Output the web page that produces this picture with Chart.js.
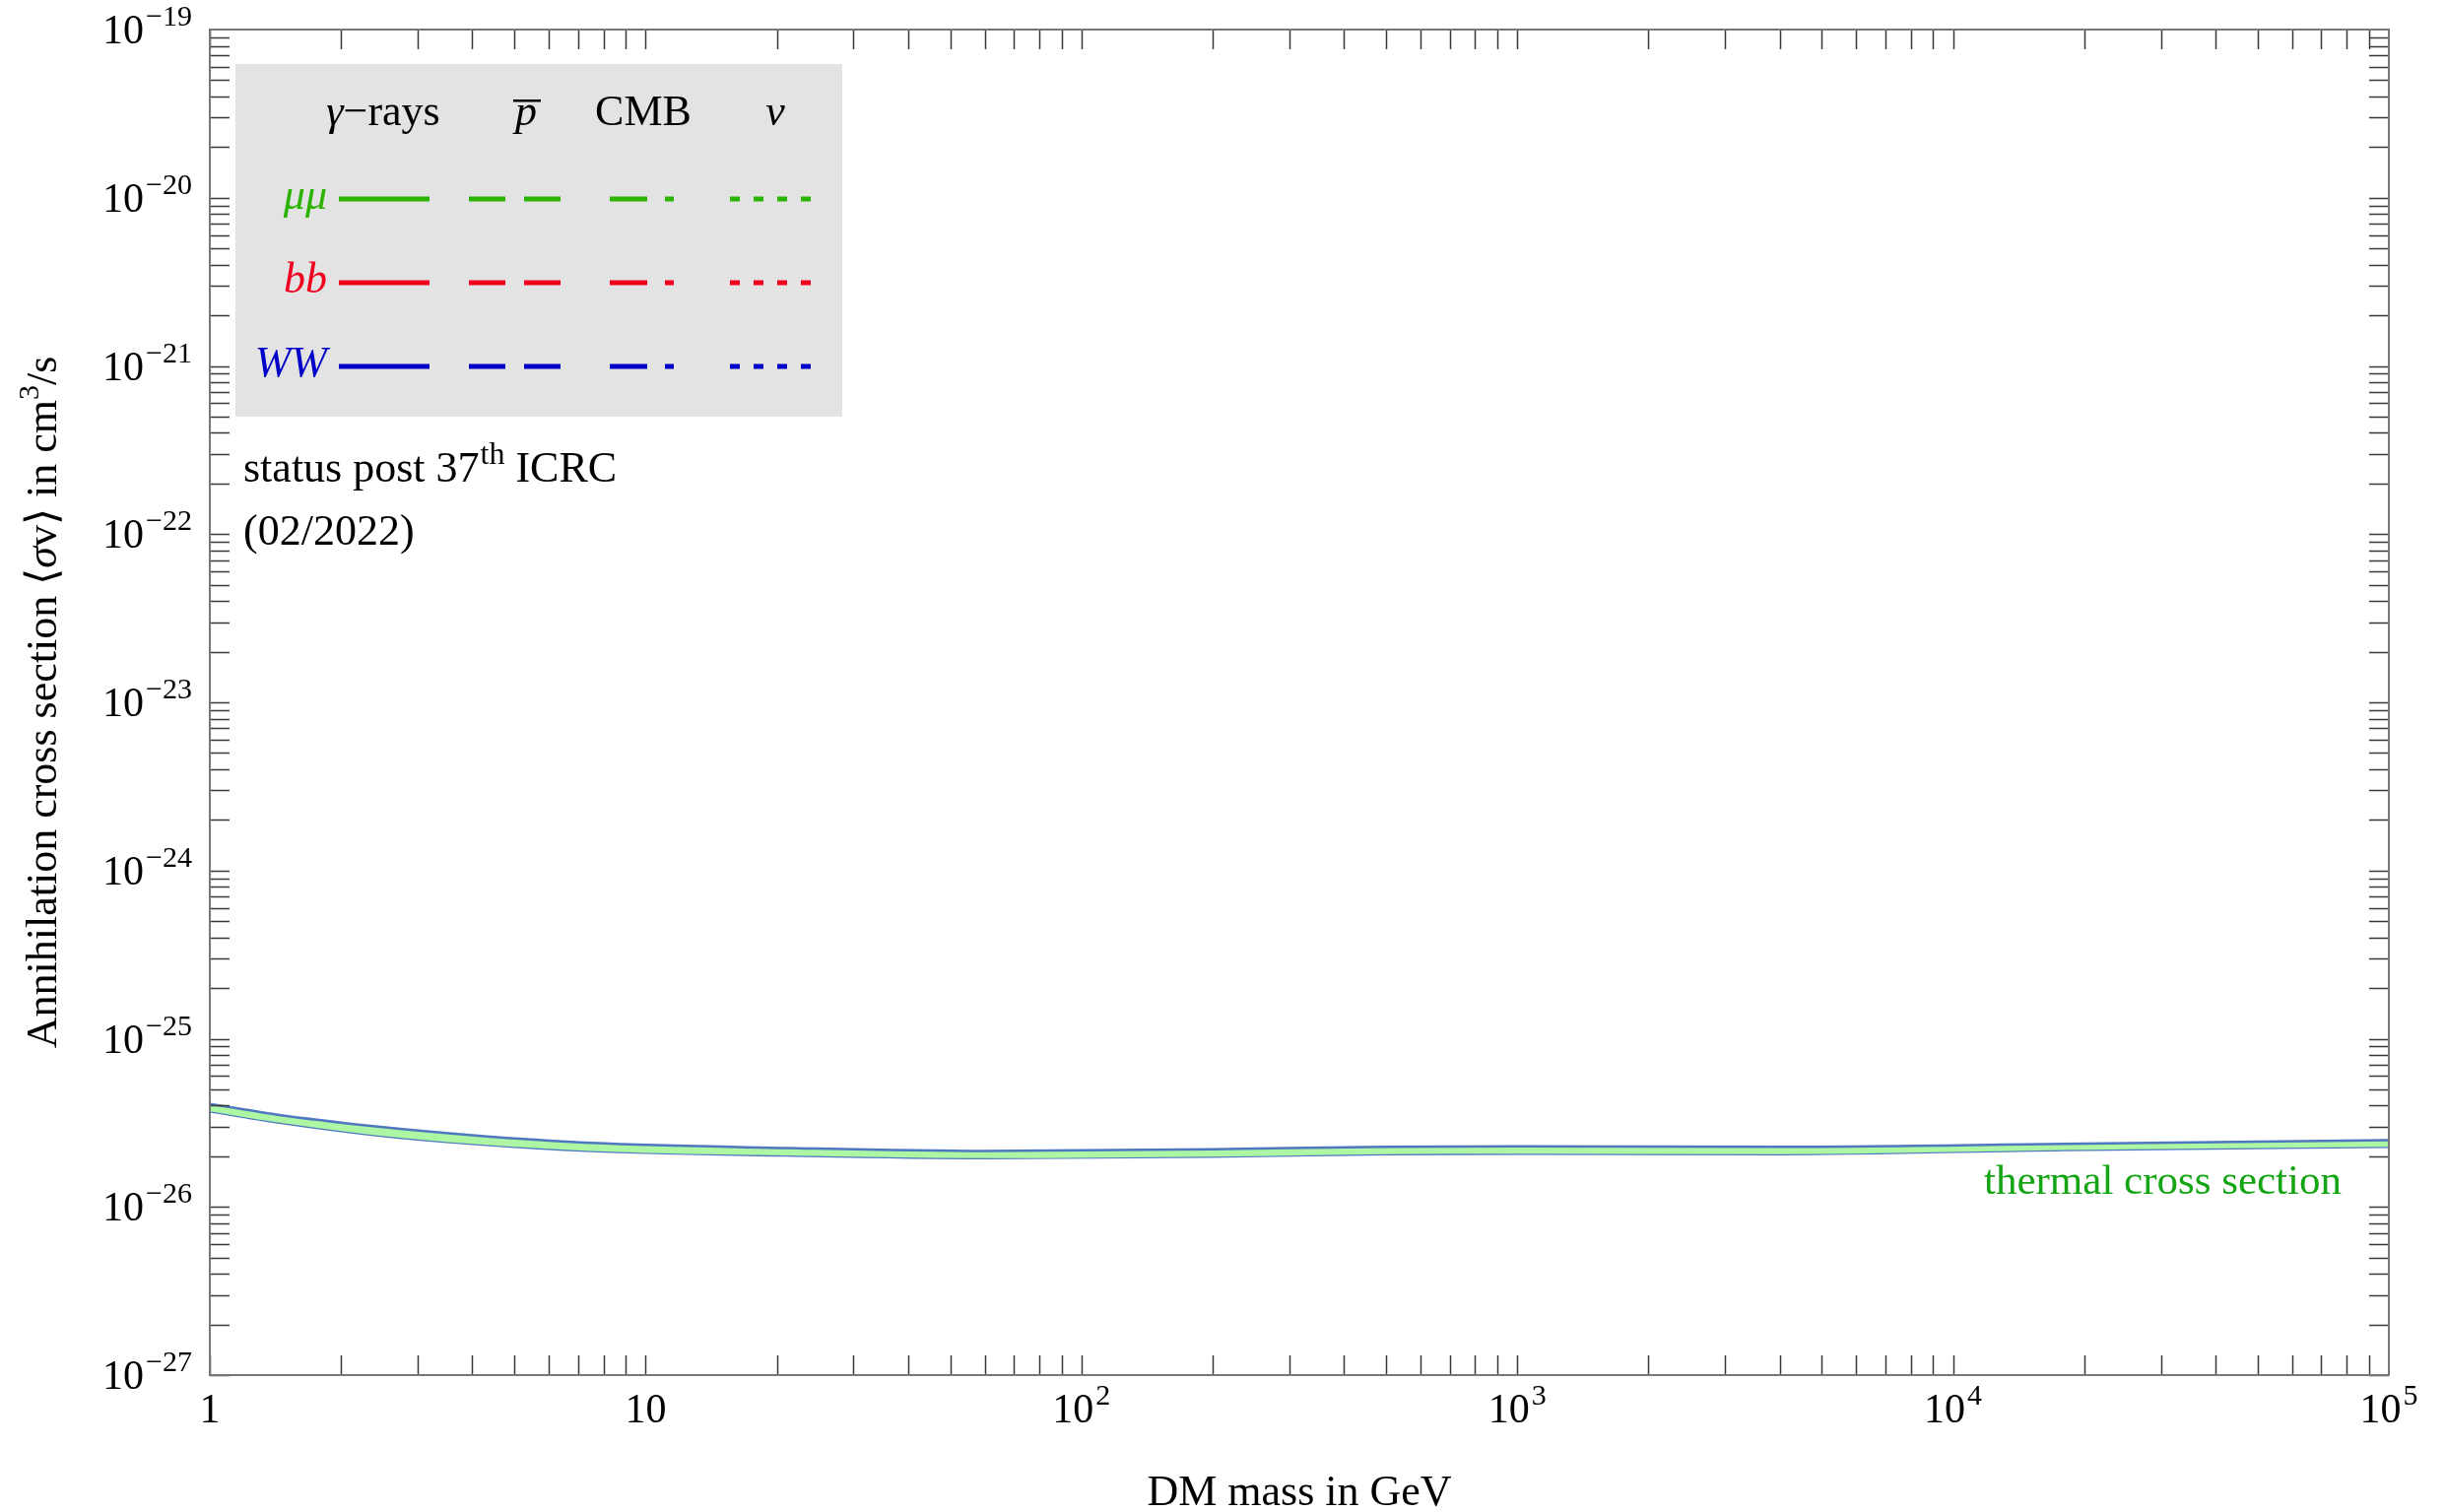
<!DOCTYPE html>
<html>
<head>
<meta charset="utf-8">
<script src="https://cdn.jsdelivr.net/npm/chart.js@4"></script>
<style>
  html, body { margin: 0; padding: 0; background: #fff; }
  canvas { display: block; }
</style>
</head>
<body>
<canvas id="relicChart" width="2482" height="1535"></canvas>
<script>
// thermal relic cross section band (upper / lower edge)
const massGeV    = [1, 1.42, 2.4, 4, 7.5, 21, 60, 200, 500, 1000, 4000, 18000, 100000];
const sigmaUpper = [4.1e-26, 3.54e-26, 3.01e-26, 2.67e-26, 2.4e-26, 2.24e-26, 2.15e-26, 2.2e-26, 2.28e-26, 2.29e-26, 2.28e-26, 2.37e-26, 2.49e-26];
const sigmaLower = [3.7e-26, 3.19e-26, 2.67e-26, 2.37e-26, 2.15e-26, 2.02e-26, 1.95e-26, 1.99e-26, 2.06e-26, 2.07e-26, 2.06e-26, 2.18e-26, 2.28e-26];

// decade tick labels
const xTickExponents = [0, 1, 2, 3, 4, 5];
const yTickExponents = [-27, -26, -25, -24, -23, -22, -21, -20, -19];

// legend table
const channels = ['μμ', 'bb', 'WW'];
const probes = ['γ−rays', 'p̄', 'CMB', 'ν'];

const SERIF = "'Liberation Serif', 'Times New Roman', serif";
const channelColors = ['#2bb300', '#f0001e', '#0000c8'];
const probeDashes = [[], [37, 19], [38, 18, 9, 200], [10, 14]];
const bandFill = 'rgb(172,246,164)';
const bandEdge = 'rgb(80,120,192)';

function toPoints(xs, ys) {
    return xs.map(function (x, i) { return { x: x, y: ys[i] }; });
}

// draw a run of text pieces [{t, font, dy}] starting at x
function richWidth(ctx, parts) {
    let w = 0;
    parts.forEach(function (p) { ctx.font = p.font; w += ctx.measureText(p.t).width + (p.gap || 0); });
    return w;
}
function drawRich(ctx, parts, x, y, align) {
    const w = richWidth(ctx, parts);
    let cx = x;
    if (align === 'center') cx = x - w / 2;
    if (align === 'right') cx = x - w;
    ctx.textAlign = 'left';
    ctx.textBaseline = 'alphabetic';
    parts.forEach(function (p) {
        ctx.font = p.font;
        cx += (p.gap || 0);
        ctx.fillText(p.t, cx, y + (p.dy || 0));
        cx += ctx.measureText(p.t).width;
    });
}

function powerParts(e) {
    if (e === 0) return [{ t: '1', font: '42px ' + SERIF }];
    if (e === 1) return [{ t: '10', font: '42px ' + SERIF }];
    const s = (e < 0 ? '\u2212' : '') + Math.abs(e);
    return [{ t: '10', font: '42px ' + SERIF }, { t: s, font: '30px ' + SERIF, dy: -18, gap: 2 }];
}

const framePlugin = {
    id: 'frame',
    afterDraw: function (chart) {
        const ctx = chart.ctx;
        const a = chart.chartArea;
        const xs = chart.scales.x;
        const ys = chart.scales.y;
        const tick = 20;
        ctx.save();

        // ticks inside on all four sides
        ctx.strokeStyle = '#3a3a3a';
        ctx.lineWidth = 1.5;
        ctx.beginPath();
        for (let e = 0; e < 5; e++) {
            for (let s = 1; s <= 9; s++) {
                const px = Math.round(xs.getPixelForValue(s * Math.pow(10, e))) + 0.5;
                ctx.moveTo(px, a.bottom); ctx.lineTo(px, a.bottom - tick);
                ctx.moveTo(px, a.top); ctx.lineTo(px, a.top + tick);
            }
        }
        for (let e = -27; e < -19; e++) {
            for (let s = 1; s <= 9; s++) {
                const py = Math.round(ys.getPixelForValue(s * Math.pow(10, e))) + 0.5;
                ctx.moveTo(a.left, py); ctx.lineTo(a.left + tick, py);
                ctx.moveTo(a.right, py); ctx.lineTo(a.right - tick, py);
            }
        }
        ctx.stroke();

        // frame
        ctx.strokeStyle = '#777';
        ctx.lineWidth = 2;
        ctx.strokeRect(a.left, a.top, a.right - a.left, a.bottom - a.top);

        // tick labels
        ctx.fillStyle = '#000';
        xTickExponents.forEach(function (e) {
            const px = xs.getPixelForValue(Math.pow(10, e));
            drawRich(ctx, powerParts(e), px, a.bottom + 48, 'center');
        });
        yTickExponents.forEach(function (e) {
            const py = ys.getPixelForValue(Math.pow(10, e));
            drawRich(ctx, powerParts(e), 195, py + 14, 'right');
        });

        // axis titles
        drawRich(ctx, [{ t: 'DM mass in GeV', font: '44px ' + SERIF }], (a.left + a.right) / 2, 1528, 'center');
        ctx.save();
        ctx.translate(57, (a.top + a.bottom) / 2);
        ctx.rotate(-Math.PI / 2);
        drawRich(ctx, [
            { t: 'Annihilation cross section \u27E8', font: '44px ' + SERIF },
            { t: 'σ', font: 'italic 44px ' + SERIF },
            { t: 'v\u27E9 in cm', font: '44px ' + SERIF },
            { t: '3', font: '30px ' + SERIF, dy: -18 },
            { t: '/s', font: '44px ' + SERIF }
        ], 0, 0, 'center');
        ctx.restore();

        // legend box
        ctx.fillStyle = '#e3e3e3';
        ctx.fillRect(239, 65, 616, 358);
        const headerX = [389, 534, 653, 787];
        const lineX = [344, 476, 619, 741];
        const lineLen = [92, 93, 65, 83];
        const rowY = [202, 287, 372];
        ctx.fillStyle = '#000';
        drawRich(ctx, [{ t: 'γ', font: 'italic 44px ' + SERIF }, { t: probes[0].slice(1), font: '44px ' + SERIF }], headerX[0], 127, 'center');
        drawRich(ctx, [{ t: 'p', font: 'italic 44px ' + SERIF }], headerX[1], 127, 'center');
        ctx.fillRect(headerX[1] - 13, 101, 28, 2.5);
        drawRich(ctx, [{ t: probes[2], font: '44px ' + SERIF }], headerX[2], 127, 'center');
        drawRich(ctx, [{ t: probes[3], font: 'italic 44px ' + SERIF }], headerX[3], 127, 'center');

        channels.forEach(function (c, i) {
            ctx.fillStyle = channelColors[i];
            drawRich(ctx, [{ t: c, font: 'italic 44px ' + SERIF }], 332, rowY[i] + 10, 'right');
            ctx.strokeStyle = channelColors[i];
            ctx.lineWidth = 5;
            ctx.lineCap = 'butt';
            probes.forEach(function (p, j) {
                ctx.setLineDash(probeDashes[j]);
                ctx.beginPath();
                ctx.moveTo(lineX[j], rowY[i]);
                ctx.lineTo(lineX[j] + lineLen[j], rowY[i]);
                ctx.stroke();
            });
        });
        ctx.setLineDash([]);

        // annotations
        ctx.fillStyle = '#000';
        drawRich(ctx, [
            { t: 'status post 37', font: '44px ' + SERIF },
            { t: 'th', font: '32px ' + SERIF, dy: -18, gap: 1 },
            { t: ' ICRC', font: '44px ' + SERIF }
        ], 247, 489, 'left');
        drawRich(ctx, [{ t: '(02/2022)', font: '44px ' + SERIF }], 247, 553, 'left');
        ctx.fillStyle = '#14a514';
        drawRich(ctx, [{ t: 'thermal cross section', font: '43px ' + SERIF }], 2377, 1212, 'right');

        ctx.restore();
    }
};

const ctx = document.getElementById('relicChart').getContext('2d');
const chart = new Chart(ctx, {
    type: 'line',
    data: {
        datasets: [
            {
                label: 'thermal upper',
                data: toPoints(massGeV, sigmaUpper),
                borderColor: bandEdge,
                borderWidth: 2.5,
                backgroundColor: bandFill,
                fill: '+1',
                pointRadius: 0,
                cubicInterpolationMode: 'monotone'
            },
            {
                label: 'thermal lower',
                data: toPoints(massGeV, sigmaLower),
                borderColor: bandEdge,
                borderWidth: 2.5,
                fill: false,
                pointRadius: 0,
                cubicInterpolationMode: 'monotone'
            }
        ]
    },
    options: {
        responsive: false,
        animation: false,
        devicePixelRatio: 1,
        layout: { padding: { left: 213, top: 30, right: 57, bottom: 139 } },
        plugins: { legend: { display: false }, tooltip: { enabled: false } },
        scales: {
            x: { type: 'logarithmic', min: 1, max: 1e5, display: false },
            y: { type: 'logarithmic', min: 1e-27, max: 1e-19, display: false }
        }
    },
    plugins: [framePlugin]
});
</script>
</body>
</html>
